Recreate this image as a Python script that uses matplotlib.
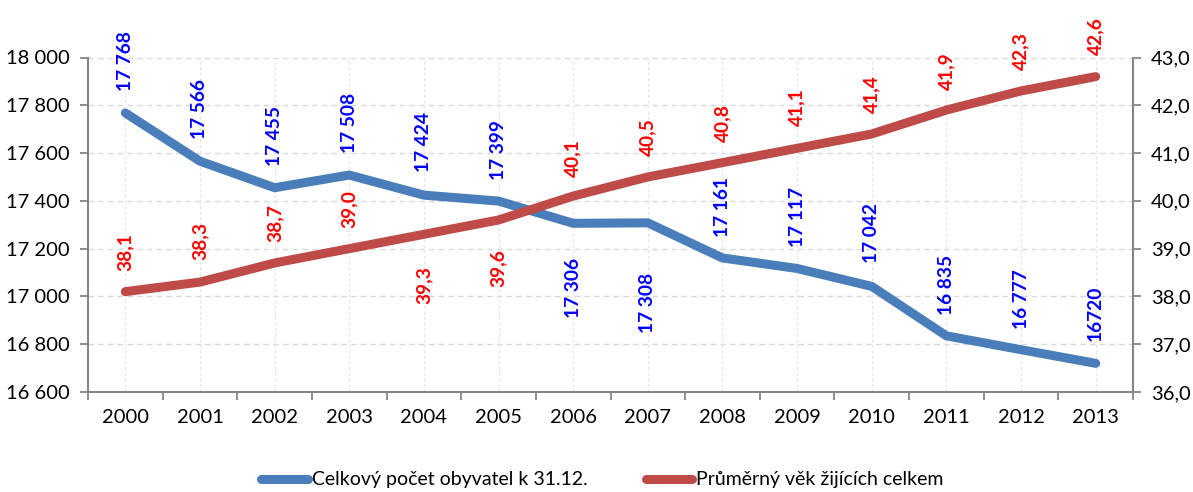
import matplotlib
matplotlib.use("Agg")
import matplotlib.pyplot as plt
from matplotlib.ticker import FuncFormatter, FixedLocator

plt.rcParams['font.family'] = ['Lato', 'DejaVu Sans']

years = ["2000", "2001", "2002", "2003", "2004", "2005", "2006",
         "2007", "2008", "2009", "2010", "2011", "2012", "2013"]
population = [17768, 17566, 17455, 17508, 17424, 17399, 17306,
              17308, 17161, 17117, 17042, 16835, 16777, 16720]
avg_age = [38.1, 38.3, 38.7, 39.0, 39.3, 39.6, 40.1,
           40.5, 40.8, 41.1, 41.4, 41.9, 42.3, 42.6]
pop_labels = ["17 768", "17 566", "17 455", "17 508", "17 424", "17 399", "17 306",
              "17 308", "17 161", "17 117", "17 042", "16 835", "16 777", "16720"]
age_labels = ["38,1", "38,3", "38,7", "39,0", "39,3", "39,6", "40,1",
              "40,5", "40,8", "41,1", "41,4", "41,9", "42,3", "42,6"]
series_names = ["Celkový počet obyvatel k 31.12.", "Průměrný věk žijících celkem"]

# label offsets in pixels (style: vertical placement of data labels)
pop_offsets = [52, 52, 52, 52, 53, 51, -65, -80, 51, 51, 53, 51, 51, 50]
age_offsets = [40, 41, 40, 40, -51, -48, 38, 40, 40, 41, 40, 39, 40, 40]

BLUE = "#4A7EBB"
RED = "#BE4B48"
AXIS = "#868686"
GRID = "#D9D9D9"

fig = plt.figure(figsize=(11.93, 4.92), dpi=100)
ax = fig.add_axes([88/1193, 1-392/492, (1133-88)/1193, (392-57.5)/492])
ax2 = ax.twinx()

x = list(range(len(years)))
ax.plot(x, population, color=BLUE, lw=6.5, solid_capstyle='round', solid_joinstyle='miter', zorder=3)
ax2.plot(x, avg_age, color=RED, lw=6.5, solid_capstyle='round', solid_joinstyle='miter', zorder=3)

ax.set_xlim(-0.5, len(years) - 0.5)
ax.set_ylim(16600, 18000)
ax2.set_ylim(36.0, 43.0)
ax.set_yticks(range(16600, 18001, 200))
ax2.set_yticks([36, 37, 38, 39, 40, 41, 42, 43])
ax.yaxis.set_major_formatter(FuncFormatter(lambda v, p: f"{int(v):,}".replace(",", " ")))
ax2.yaxis.set_major_formatter(FuncFormatter(lambda v, p: f"{v:.1f}".replace(".", ",")))

# x axis: labels at categories, ticks between categories
ax.set_xticks(x)
ax.set_xticklabels(years)
ax.xaxis.set_minor_locator(FixedLocator([i - 0.5 for i in range(len(years) + 1)]))
ax.tick_params(axis='x', which='major', length=0, pad=12, labelsize=14.5)
ax.tick_params(axis='x', which='minor', length=6, width=1.3, color=AXIS, direction='out')
ax.tick_params(axis='y', length=6, width=1.3, color=AXIS, labelsize=14.5, pad=7)
ax2.tick_params(axis='y', length=6, width=1.3, color=AXIS, labelsize=14.5, pad=7)

# grid
for yv in range(16600, 18001, 200):
    ax.axhline(yv, color=GRID, lw=1, ls=(0, (4, 3)), zorder=0)
for xi in x:
    ax.axvline(xi, color="#E6E6E6", lw=0.8, ls=(0, (3, 2)), zorder=0)

for a in (ax, ax2):
    a.spines['top'].set_visible(False)
    for s in ('left', 'right', 'bottom'):
        a.spines[s].set_color(AXIS)
        a.spines[s].set_linewidth(1.5)
ax.spines['right'].set_visible(False)
ax2.spines['left'].set_visible(False)
ax2.spines['bottom'].set_visible(False)

# data labels
for i in x:
    ax2.annotate(pop_labels[i], xy=(i, population[i]), xycoords=ax.transData,
                 xytext=(0, pop_offsets[i]), textcoords='offset pixels',
                 rotation=90, ha='center', va='center', color='#0000FF',
                 fontsize=13.8, fontweight='bold', zorder=5)
    ax2.annotate(age_labels[i], xy=(i, avg_age[i]), xycoords='data',
                 xytext=(0, age_offsets[i]), textcoords='offset pixels',
                 rotation=90, ha='center', va='center', color='#FF0000',
                 fontsize=13.8, fontweight='bold', zorder=5)

# legend
h1, = ax.plot([], [], color=BLUE, lw=6.5, solid_capstyle='round')
h2, = ax.plot([], [], color=RED, lw=6.5, solid_capstyle='round')
fig.legend([h1, h2], series_names, loc='center', bbox_to_anchor=(0.505, 1-480/492),
           ncol=2, frameon=False, fontsize=14, handlelength=2.4, handletextpad=0.2,
           columnspacing=3.0)

fig.savefig("out.png", dpi=100, facecolor='white')
